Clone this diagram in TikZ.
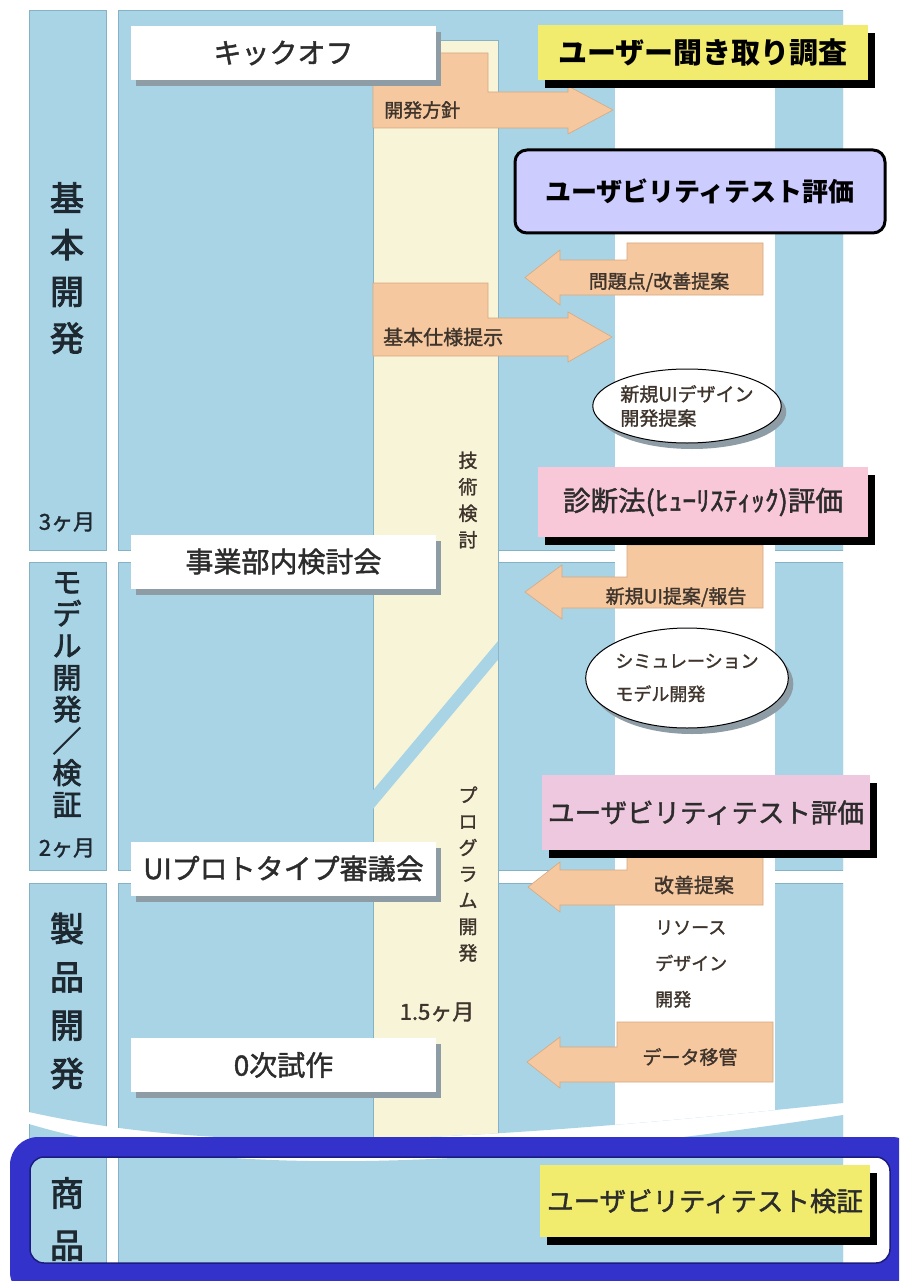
\documentclass[tikz,border=0pt]{standalone}
\usepackage{fontspec}
\setmainfont{Noto Sans CJK JP}
\newfontfamily\jpmed{Noto Sans CJK JP}[FakeBold=1.5]
\newfontfamily\jpheavy{Noto Sans CJK JP}[FakeBold=2.5]
\usetikzlibrary{shadows,shapes.geometric}
\definecolor{bgblue}{HTML}{A8D4E5}
\definecolor{edgeblue}{HTML}{86B2C6}
\definecolor{beige}{HTML}{F7F4D8}
\definecolor{peach}{HTML}{F5C8A0}
\definecolor{peachedge}{HTML}{D8A880}
\definecolor{ylw}{HTML}{F2EC6E}
\definecolor{pinkA}{HTML}{F8C8D8}
\definecolor{pinkB}{HTML}{EEC8DE}
\definecolor{lav}{HTML}{CCCCFF}
\definecolor{framebl}{HTML}{3333CC}
\definecolor{frameinner}{HTML}{1C1C80}
\definecolor{txtgrey}{HTML}{2C2C2C}
\definecolor{txtbrown}{HTML}{3E342C}
\definecolor{stagetxt}{HTML}{1E2830}
\definecolor{shgrey}{HTML}{8E9CA6}
\tikzset{
  wbox/.style={fill=white, minimum width=305pt, minimum height=54pt, inner sep=0pt,
    text=txtgrey, font=\jpmed\fontsize{28}{30}\selectfont,
    drop shadow={shadow xshift=5pt,shadow yshift=-6pt,fill=shgrey,opacity=1}},
  sbox/.style={minimum width=330pt, inner sep=0pt, text=black,
    drop shadow={shadow xshift=7pt,shadow yshift=-8pt,fill=black,opacity=1}},
  arrowshape/.style={fill=peach, draw=peachedge, line width=0.6pt},
  alabel/.style={text=txtbrown, font=\jpmed\fontsize{19}{22}\selectfont, inner sep=0pt},
  stagelabel/.style={text=stagetxt, align=center, inner sep=0pt},
  midlabel/.style={text=txtbrown, align=center, inner sep=0pt},
  oval/.style={ellipse, draw=black, line width=1pt, fill=white, minimum width=178pt,
    inner sep=0pt, align=left, text=txtbrown,
    drop shadow={shadow xshift=5pt,shadow yshift=-6pt,fill=shgrey,opacity=1}},
  panel/.style={fill=bgblue, draw=edgeblue, line width=0.8pt}
}
\begin{document}
\begin{tikzpicture}[x=1pt,y=-1pt]
\useasboundingbox (0,0) rectangle (899,1281);
\clip (0,0) rectangle (899,1281);
\fill[white] (0,0) rectangle (899,1281);

% upper panels
\begin{scope}
\clip (29,10) -- (843,10) -- (843,1103) .. controls (400,1150) and (200,1150) .. (29,1112) -- cycle;
\foreach \ya/\yb in {10/550, 562/870, 883/1200} {
  \filldraw[panel] (29,\ya) rectangle (106,\yb);
  \filldraw[panel] (118,\ya) rectangle (843,\yb);
}
\fill[white] (615,40) rectangle (775,1200);
\fill[beige] (373,40) rectangle (498,1200);
\draw[edgeblue, line width=0.8pt] (373,1200) -- (373,40) -- (498,40) -- (498,1200);
\begin{scope}
\clip (373,40) rectangle (498,1200);
\draw[bgblue, line width=12pt] (505,642) -- (366,808);
\end{scope}
\end{scope}

% lower panels
\begin{scope}
\clip (29,1124) .. controls (200,1175) and (450,1175) .. (843,1115) -- (843,1270) -- (29,1270) -- cycle;
\filldraw[panel] (29,1100) rectangle (106,1263);
\filldraw[panel] (118,1100) rectangle (843,1263);
\end{scope}

% arrows
\filldraw[arrowshape] (373,53) -- (488,53) -- (488,92) -- (568,92) -- (568,86) -- (613,110) -- (568,134) -- (568,128) -- (373,128) -- cycle;
\filldraw[arrowshape] (763,243) -- (627,243) -- (627,260) -- (560,260) -- (560,250) -- (525,277.5) -- (560,305) -- (560,295) -- (763,295) -- cycle;
\filldraw[arrowshape] (373,283) -- (488,283) -- (488,318) -- (568,318) -- (568,312) -- (612,337) -- (568,362) -- (568,356) -- (373,356) -- cycle;
\filldraw[arrowshape] (763,545) -- (627,545) -- (627,577) -- (562,577) -- (562,565) -- (525,592) -- (562,619) -- (562,608) -- (763,608) -- cycle;
\filldraw[arrowshape] (763,855) -- (627,855) -- (627,870) -- (560,870) -- (560,862) -- (528,887) -- (560,912) -- (560,905) -- (763,905) -- cycle;
\filldraw[arrowshape] (773,1022) -- (617,1022) -- (617,1047) -- (560,1047) -- (560,1037) -- (527,1062) -- (560,1088) -- (560,1082) -- (773,1082) -- cycle;

% arrow labels
\node[alabel, anchor=west] (lkaihatsu) at (384,110) {開発方針};
\node[alabel] (lmondai) at (659,282) {問題点/改善提案};
\node[alabel, anchor=west, font=\jpmed\fontsize{20}{22}\selectfont] (lkihon) at (383,337) {基本仕様提示};
\node[alabel] (lshinki) at (676,597) {新規UI提案/報告};
\node[alabel, font=\jpmed\fontsize{20}{22}\selectfont] (lkaizen) at (694,885) {改善提案};
\node[alabel] (ldata) at (690,1057) {データ移管};

% white milestone boxes
\node[wbox] (kick) at (283.5,53) {キックオフ};
\node[wbox] (jigyo) at (283.5,561.5) {事業部内検討会};
\node[wbox] (proto) at (283.5,868.5) {UIプロトタイプ審議会};
\node[wbox] (shisaku) at (283.5,1065) {0次試作};

% evaluation boxes
\node[sbox, fill=ylw, minimum height=55pt, font=\fontsize{29}{30}\selectfont\bfseries] (hearing) at (703,52.5) {ユーザー聞き取り調査};
\node[draw=black, line width=3pt, rounded corners=12pt, fill=lav, minimum width=370pt, minimum height=83pt, inner sep=0pt, font=\fontsize{26}{28}\selectfont\bfseries] (utest1) at (700,191.5) {ユーザビリティテスト評価};
\node[sbox, fill=pinkA, minimum height=70pt, font=\jpmed\fontsize{27.5}{28}\selectfont, text=txtgrey] (heur) at (703,502) {診断法(ﾋｭｰﾘｽﾃｨｯｸ)評価};
\node[sbox, fill=pinkB, minimum width=328pt, minimum height=75pt, font=\jpmed\fontsize{26.5}{28}\selectfont, text=txtgrey] (utest2) at (706,812.5) {ユーザビリティテスト評価};

% ellipses
\node[oval, minimum height=74pt, font=\jpmed\fontsize{19}{24}\selectfont] (ui) at (687,406) {新規UIデザイン\\開発提案};
\node[oval, minimum height=100pt, font=\jpmed\fontsize{18}{33}\selectfont] (sim) at (687,678) {シミュレーション\\モデル開発};

% right column text
\node[midlabel, align=left, anchor=west, font=\jpmed\fontsize{18}{36}\selectfont] (resource) at (655,964) {リソース\\デザイン\\開発};

% middle column vertical labels
\node[midlabel, font=\jpmed\fontsize{19}{26.5}\selectfont] (gijutsu) at (468,500) {技\\術\\検\\討};
\node[midlabel, font=\jpmed\fontsize{19}{26.3}\selectfont] (program) at (468,874) {プ\\ロ\\グ\\ラ\\ム\\開\\発};
\node[midlabel, font=\jpmed\fontsize{22}{24}\selectfont] (onefive) at (437,1012) {1.5ヶ月};

% stage labels
\node[stagelabel, font=\jpheavy\fontsize{34}{46.7}\selectfont] (kihon) at (67,268) {基\\本\\開\\発};
\node[stagelabel, font=\jpmed\fontsize{22}{24}\selectfont] (m3) at (67,522) {3ヶ月};
\node[stagelabel, font=\jpheavy\fontsize{29}{31.8}\selectfont] (model) at (67,695) {モ\\デ\\ル\\開\\発\\／\\検\\証};
\node[stagelabel, font=\jpmed\fontsize{22}{24}\selectfont] (m2) at (67,848) {2ヶ月};
\node[stagelabel, font=\jpheavy\fontsize{34}{48.3}\selectfont] (seihin) at (67,1001) {製\\品\\開\\発};
\node[stagelabel, font=\jpheavy\fontsize{34}{52}\selectfont] (shohin) at (67,1219) {商\\品};

% product frame
\fill[framebl, even odd rule] {[rounded corners=28pt] (10,1137) rectangle (920,1300)} {[rounded corners=14pt] (30,1157) rectangle (890,1263)};
\draw[frameinner, line width=1.5pt, rounded corners=14pt] (30,1157) rectangle (890,1263);

\node[sbox, fill=ylw, minimum height=72pt, font=\jpmed\fontsize{26.5}{28}\selectfont, text=txtgrey] (verify) at (705,1201) {ユーザビリティテスト検証};
\end{tikzpicture}
\end{document}
